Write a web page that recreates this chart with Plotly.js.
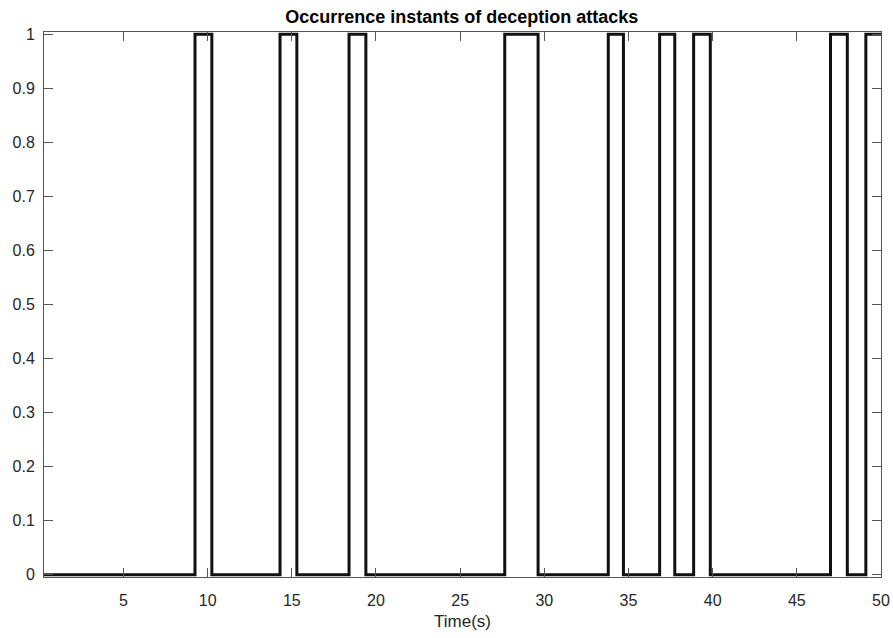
<!DOCTYPE html>
<html>
<head>
<meta charset="utf-8">
<script src="https://cdn.plot.ly/plotly-3.0.1.min.js"></script>
<style>html,body{margin:0;padding:0;background:#fff;}#chart{width:893px;height:638px;}</style>
</head>
<body>
<div id="chart"></div>
<script>
// Transition instants (s) and the attack state that starts at each instant
const switchTimes = [0.28, 9.25, 10.25, 14.3, 15.3, 18.4, 19.4, 27.65, 29.63, 33.8, 34.7, 36.85, 37.75, 38.87, 39.86, 47.0, 48.0, 49.1, 50];
const attackState = [0, 1, 0, 1, 0, 1, 0, 1, 0, 1, 0, 1, 0, 1, 0, 1, 0, 1, 1];
const xTickVals = [5, 10, 15, 20, 25, 30, 35, 40, 45, 50];
const yTickVals = [0, 0.1, 0.2, 0.3, 0.4, 0.5, 0.6, 0.7, 0.8, 0.9, 1];
const yTickText = ['0', '0.1', '0.2', '0.3', '0.4', '0.5', '0.6', '0.7', '0.8', '0.9', '1'];

const trace = {
  x: switchTimes,
  y: attackState,
  mode: 'lines',
  line: {shape: 'hv', color: '#111111', width: 3},
  hoverinfo: 'skip'
};

const tickFont = {family: 'Liberation Sans, Arial, sans-serif', size: 16, color: '#262626'};

const layout = {
  width: 893,
  height: 638,
  margin: {l: 44, r: 12, t: 32, b: 61},
  paper_bgcolor: '#ffffff',
  plot_bgcolor: '#ffffff',
  showlegend: false,
  title: {
    text: '<b>Occurrence instants of deception attacks</b>',
    font: {family: 'Liberation Sans, Arial, sans-serif', size: 18, color: '#000'},
    x: 0.517, xanchor: 'center', y: 0.984, yanchor: 'top'
  },
  xaxis: {
    range: [0.28, 50],
    tickvals: xTickVals,
    ticks: 'inside', ticklen: 9, tickwidth: 1, tickcolor: '#555',
    showline: true, linecolor: '#555', linewidth: 1, mirror: 'ticks',
    showgrid: false, zeroline: false,
    tickfont: tickFont,
    ticklabelstandoff: 9,
    title: {text: 'Time(s)', font: {family: 'Liberation Sans, Arial, sans-serif', size: 17, color: '#262626'}, standoff: 6}
  },
  yaxis: {
    range: [-0.004, 1.004],
    tickvals: yTickVals,
    ticktext: yTickText,
    ticks: 'inside', ticklen: 9, tickwidth: 1, tickcolor: '#555',
    showline: true, linecolor: '#555', linewidth: 1, mirror: 'ticks',
    showgrid: false, zeroline: false,
    tickfont: tickFont,
    ticklabelstandoff: 5
  }
};

Plotly.newPlot('chart', [trace], layout, {displayModeBar: false, staticPlot: true});
</script>
</body>
</html>
